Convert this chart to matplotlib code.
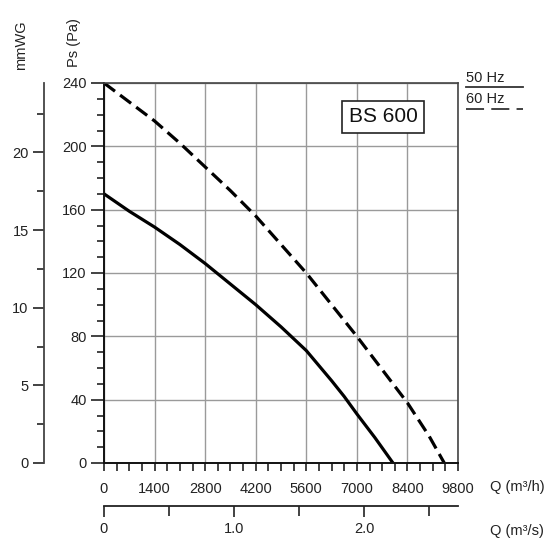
import matplotlib.pyplot as plt
from matplotlib.ticker import MultipleLocator

plt.rcParams['font.family'] = ['Liberation Sans', 'DejaVu Sans']

# 50 Hz curve (solid)
q_50 = [0, 700, 1400, 2100, 2800, 3500, 4200, 4900, 5600, 6300, 6650, 7000, 7500, 8000]
ps_50 = [170, 159, 149, 138, 126, 113, 100, 86, 71, 52, 42, 31, 16, 0]

# 60 Hz curve (dashed)
q_60 = [0, 700, 1400, 2100, 2800, 3500, 4200, 4900, 5600, 6300, 7000, 7700, 8400, 9000, 9420]
ps_60 = [240, 228, 216, 202, 187, 172, 156, 138, 120, 100, 80, 59, 38, 17, 0]

x_ticks = [0, 1400, 2800, 4200, 5600, 7000, 8400, 9800]
y_ticks = [0, 40, 80, 120, 160, 200, 240]
mmwg_ticks = [0, 5, 10, 15, 20]
ms_ticks = [0, 1, 2]
ms_labels = ['0', '1.0', '2.0']

W = 550.0
FS = 10.5
TXT = '#222222'
fig = plt.figure(figsize=(5.5, 5.5), dpi=100)

# main axes: px 104..458 horizontally, 83..463 vertically
ax = fig.add_axes([104 / W, 1 - 463 / W, (458 - 104) / W, (463 - 83) / W])
ax.set_xlim(0, 9800)
ax.set_ylim(0, 240)

ax.plot(q_50, ps_50, color='black', lw=2.3, solid_capstyle='butt', solid_joinstyle='round')
ax.plot(q_60, ps_60, color='black', lw=2.3, dashes=(4.3, 2.0))

ax.set_xticks(x_ticks)
ax.set_yticks(y_ticks)
ax.xaxis.set_minor_locator(MultipleLocator(350))
ax.yaxis.set_minor_locator(MultipleLocator(10))
ax.grid(True, which='major', color='#9a9a9a', lw=1.0)
ax.set_axisbelow(True)

ax.tick_params(axis='y', which='major', direction='out', length=9.5, width=1.2,
               labelsize=FS, pad=3, colors=TXT)
ax.tick_params(axis='y', which='minor', direction='out', length=5, width=1.2, colors=TXT)
ax.tick_params(axis='x', which='major', direction='out', length=6, width=1.2,
               labelsize=FS, pad=8, colors=TXT)
ax.tick_params(axis='x', which='minor', direction='out', length=6, width=1.2, colors=TXT)

for side in ['left', 'bottom']:
    ax.spines[side].set_color('#111111')
    ax.spines[side].set_linewidth(1.4)
for side in ['top', 'right']:
    ax.spines[side].set_color('#444444')
    ax.spines[side].set_linewidth(1.2)

# secondary flow axis in m3/s below
sec = ax.secondary_xaxis(-0.112, functions=(lambda q: q / 3600.0, lambda s: s * 3600.0))
sec.set_xticks(ms_ticks)
sec.set_xticklabels(ms_labels)
sec.xaxis.set_minor_locator(MultipleLocator(0.5))
sec.tick_params(which='major', direction='out', length=8, width=1.2, labelsize=FS,
                pad=4, colors=TXT)
sec.tick_params(which='minor', direction='out', length=7, width=1.2, colors=TXT)
sec.spines['bottom'].set_linewidth(1.3)
sec.spines['bottom'].set_color(TXT)

# mmWG axis on the far left
ax2 = fig.add_axes([44 / W, 1 - 463 / W, 0.001, (463 - 83) / W])
ax2.set_ylim(0, 240 / 9.81)
ax2.set_xticks([])
ax2.set_yticks(mmwg_ticks)
ax2.yaxis.set_minor_locator(MultipleLocator(2.5))
ax2.tick_params(axis='y', which='major', direction='out', length=8, width=1.2,
                labelsize=FS, pad=3, colors=TXT)
ax2.tick_params(axis='y', which='minor', direction='out', length=5, width=1.2, colors=TXT)
for side in ['top', 'right', 'bottom']:
    ax2.spines[side].set_visible(False)
ax2.spines['left'].set_linewidth(1.3)
ax2.spines['left'].set_color('#444444')
ax2.patch.set_visible(False)

# axis titles
fig.text(74 / W, 1 - 67 / W, 'Ps (Pa)', rotation=90, ha='center', va='bottom',
         fontsize=FS, color=TXT)
fig.text(21 / W, 1 - 70 / W, 'mmWG', rotation=90, ha='center', va='bottom',
         fontsize=FS, color=TXT)
fig.text(490 / W, 1 - 487 / W, 'Q (m³/h)', ha='left', va='center', fontsize=FS, color=TXT)
fig.text(490 / W, 1 - 531 / W, 'Q (m³/s)', ha='left', va='center', fontsize=FS, color=TXT)

# model label box
ax.text(0.788, 0.911, 'BS 600', transform=ax.transAxes, ha='center', va='center',
        fontsize=15, color='#111111',
        bbox=dict(boxstyle='square,pad=0.3', facecolor='white', edgecolor=TXT, lw=1.2))

# legend at right
fig.text(466 / W, 1 - 78 / W, '50 Hz', ha='left', va='center', fontsize=FS, color=TXT)
fig.add_artist(plt.Line2D([466 / W, 523 / W], [1 - 87 / W, 1 - 87 / W], color='#333333', lw=1.3))
fig.text(466 / W, 1 - 99 / W, '60 Hz', ha='left', va='center', fontsize=FS, color=TXT)
fig.add_artist(plt.Line2D([466 / W, 523 / W], [1 - 109 / W, 1 - 109 / W], color='#333333',
                          lw=1.3, dashes=(10, 4)))

fig.savefig('out.png', dpi=100)
